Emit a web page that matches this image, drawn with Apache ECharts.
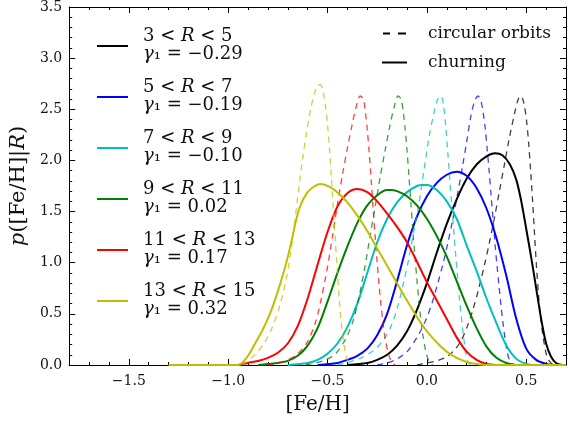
<!DOCTYPE html>
<html>
<head>
<meta charset="utf-8">
<script src="https://cdn.jsdelivr.net/npm/echarts@6/dist/echarts.min.js"></script>
<style>html,body{margin:0;padding:0;background:#fff;}#c{width:568px;height:423px;}</style>
</head>
<body>
<div id="c"></div>
<script>
// ---- data ----
const binLabels = ['3 < R < 5', '5 < R < 7', '7 < R < 9', '9 < R < 11', '11 < R < 13', '13 < R < 15'];
const gammaLabels = ['\u22120.29', '\u22120.19', '\u22120.10', '0.02', '0.17', '0.32'];
const xTickLabels = [-1.5, -1.0, -0.5, 0.0, 0.5];
const yTickLabels = [0.0, 0.5, 1.0, 1.5, 2.0, 2.5, 3.0, 3.5];

const blackDashed = [[-0.05,0],[0.0,0.02],[0.05,0.04],[0.1,0.08],[0.14,0.15],[0.17,0.23],[0.2,0.36],[0.23,0.53],[0.26,0.74],[0.29,0.98],[0.315,1.2],[0.34,1.44],[0.365,1.7],[0.39,1.96],[0.415,2.22],[0.44,2.45],[0.455,2.57],[0.469,2.63],[0.482,2.6],[0.492,2.52],[0.502,2.38],[0.512,2.17],[0.522,1.9],[0.532,1.6],[0.542,1.27],[0.552,0.95],[0.562,0.68],[0.572,0.47],[0.582,0.31],[0.592,0.19],[0.602,0.1],[0.615,0.04],[0.63,0.01],[0.645,0]];
const blackSolid = [[-0.40,0],[-0.3,0.02],[-0.25,0.05],[-0.2,0.1],[-0.15,0.19],[-0.1,0.33],[-0.05,0.54],[0.0,0.8],[0.05,1.1],[0.1,1.38],[0.15,1.62],[0.2,1.82],[0.25,1.96],[0.3,2.04],[0.343,2.07],[0.38,2.05],[0.418,1.96],[0.45,1.81],[0.475,1.6],[0.5,1.33],[0.525,1.05],[0.55,0.75],[0.575,0.45],[0.6,0.21],[0.625,0.08],[0.65,0.02],[0.68,0]];
const blueDashed = [[-0.25,0],[-0.2,0.02],[-0.15,0.06],[-0.1,0.13],[-0.05,0.27],[-0.01,0.42],[0.025,0.6],[0.055,0.8],[0.08,0.98],[0.105,1.19],[0.13,1.42],[0.155,1.68],[0.18,1.95],[0.2,2.18],[0.22,2.42],[0.24,2.58],[0.257,2.63],[0.272,2.58],[0.283,2.47],[0.293,2.32],[0.303,2.12],[0.313,1.9],[0.323,1.66],[0.333,1.42],[0.343,1.18],[0.353,0.97],[0.363,0.77],[0.373,0.58],[0.383,0.41],[0.393,0.26],[0.403,0.14],[0.415,0.05],[0.43,0.01],[0.45,0]];
const blueSolid = [[-0.55,0],[-0.45,0.02],[-0.4,0.05],[-0.35,0.09],[-0.3,0.16],[-0.25,0.29],[-0.2,0.5],[-0.15,0.82],[-0.1,1.17],[-0.05,1.45],[0.0,1.65],[0.05,1.78],[0.1,1.86],[0.15,1.89],[0.2,1.85],[0.25,1.73],[0.3,1.53],[0.35,1.24],[0.4,0.87],[0.45,0.45],[0.5,0.16],[0.55,0.05],[0.6,0.01],[0.63,0]];
const cyanDashed = [[-0.45,0],[-0.39,0.03],[-0.33,0.07],[-0.27,0.14],[-0.22,0.24],[-0.18,0.38],[-0.15,0.55],[-0.12,0.78],[-0.09,1.05],[-0.065,1.32],[-0.04,1.58],[-0.015,1.9],[0.01,2.22],[0.035,2.46],[0.055,2.6],[0.072,2.63],[0.085,2.52],[0.095,2.33],[0.105,2.08],[0.115,1.82],[0.125,1.56],[0.135,1.32],[0.145,1.07],[0.155,0.85],[0.165,0.63],[0.175,0.44],[0.185,0.27],[0.195,0.13],[0.205,0.04],[0.22,0]];
const cyanSolid = [[-0.70,0],[-0.6,0.02],[-0.55,0.05],[-0.5,0.11],[-0.45,0.21],[-0.4,0.37],[-0.35,0.6],[-0.3,0.9],[-0.25,1.2],[-0.2,1.43],[-0.15,1.59],[-0.1,1.69],[-0.05,1.75],[-0.025,1.76],[0.0,1.76],[0.05,1.71],[0.1,1.6],[0.15,1.43],[0.2,1.17],[0.25,0.92],[0.3,0.65],[0.35,0.41],[0.4,0.19],[0.45,0.06],[0.5,0.01],[0.53,0]];
const greenDashed = [[-0.61,0],[-0.56,0.02],[-0.51,0.05],[-0.46,0.11],[-0.41,0.25],[-0.37,0.44],[-0.34,0.68],[-0.31,0.98],[-0.285,1.27],[-0.26,1.55],[-0.235,1.84],[-0.21,2.1],[-0.185,2.35],[-0.165,2.52],[-0.145,2.63],[-0.13,2.6],[-0.12,2.49],[-0.11,2.32],[-0.1,2.1],[-0.09,1.84],[-0.08,1.57],[-0.07,1.3],[-0.06,1.06],[-0.05,0.83],[-0.04,0.62],[-0.03,0.44],[-0.02,0.29],[-0.005,0.13],[0.01,0.04],[0.03,0]];
const greenSolid = [[-0.85,0],[-0.8,0.01],[-0.75,0.02],[-0.7,0.04],[-0.65,0.09],[-0.6,0.19],[-0.55,0.36],[-0.5,0.62],[-0.45,0.9],[-0.4,1.16],[-0.35,1.39],[-0.3,1.56],[-0.25,1.66],[-0.2,1.71],[-0.185,1.71],[-0.15,1.7],[-0.1,1.65],[-0.05,1.56],[0.0,1.43],[0.05,1.26],[0.1,1.06],[0.15,0.82],[0.2,0.58],[0.25,0.36],[0.3,0.18],[0.35,0.07],[0.4,0.02],[0.45,0]];
const redDashed = [[-0.8,0],[-0.75,0.02],[-0.7,0.05],[-0.65,0.11],[-0.6,0.23],[-0.56,0.42],[-0.53,0.66],[-0.5,0.96],[-0.475,1.26],[-0.45,1.57],[-0.425,1.86],[-0.4,2.12],[-0.375,2.36],[-0.355,2.53],[-0.336,2.63],[-0.32,2.6],[-0.31,2.48],[-0.3,2.3],[-0.29,2.07],[-0.28,1.8],[-0.27,1.52],[-0.26,1.25],[-0.25,1.0],[-0.24,0.77],[-0.23,0.57],[-0.22,0.4],[-0.21,0.26],[-0.195,0.12],[-0.18,0.04],[-0.16,0]];
const redSolid = [[-0.95,0],[-0.9,0.02],[-0.85,0.04],[-0.8,0.07],[-0.75,0.12],[-0.7,0.21],[-0.65,0.38],[-0.6,0.65],[-0.55,0.98],[-0.5,1.3],[-0.45,1.55],[-0.4,1.68],[-0.35,1.72],[-0.3,1.69],[-0.25,1.6],[-0.2,1.48],[-0.15,1.35],[-0.1,1.2],[-0.05,1.01],[0.0,0.81],[0.05,0.63],[0.1,0.45],[0.15,0.27],[0.2,0.13],[0.25,0.05],[0.3,0.01],[0.35,0]];
const yellowDashed = [[-0.93,0],[-0.9,0.04],[-0.86,0.11],[-0.82,0.21],[-0.78,0.36],[-0.74,0.58],[-0.71,0.82],[-0.685,1.1],[-0.665,1.4],[-0.645,1.72],[-0.625,2.02],[-0.605,2.28],[-0.585,2.5],[-0.565,2.66],[-0.547,2.74],[-0.535,2.74],[-0.522,2.67],[-0.51,2.53],[-0.5,2.35],[-0.49,2.12],[-0.48,1.82],[-0.47,1.5],[-0.46,1.2],[-0.45,0.9],[-0.44,0.62],[-0.43,0.4],[-0.42,0.24],[-0.41,0.12],[-0.40,0.05],[-0.385,0]];
const yellowSolid = [[-1.3,0],[-0.95,0],[-0.93,0.02],[-0.9,0.09],[-0.87,0.19],[-0.83,0.33],[-0.79,0.5],[-0.75,0.72],[-0.71,0.98],[-0.68,1.22],[-0.66,1.4],[-0.638,1.55],[-0.604,1.68],[-0.571,1.74],[-0.537,1.77],[-0.487,1.74],[-0.445,1.68],[-0.4,1.59],[-0.35,1.46],[-0.3,1.31],[-0.25,1.14],[-0.2,0.97],[-0.15,0.8],[-0.1,0.63],[-0.05,0.47],[0.0,0.33],[0.05,0.22],[0.1,0.13],[0.15,0.07],[0.2,0.03],[0.25,0.01],[0.3,0],[0.7,0]];

const dashedSets = [blackDashed, blueDashed, cyanDashed, greenDashed, redDashed, yellowDashed];
const solidSets = [blackSolid, blueSolid, cyanSolid, greenSolid, redSolid, yellowSolid];

// ---- styles ----
const colors = ['#000000', '#0000ff', '#00bfbf', '#008000', '#ff0000', '#bfbf00'];
const FONT = 'DejaVu Serif';
const xMin = -1.8, xMax = 0.7;
const DASH_ICON = 'path://M0,0h7v2h-7zM15,0h8v2h-8z';

const names = binLabels.map((b, i) => b + '\n\u03b3\u2081 = ' + gammaLabels[i]);

const series = [];
for (let i = 0; i < 6; i++) {
  series.push({
    name: 'circ' + i, type: 'line', data: dashedSets[i], smooth: 0.3, showSymbol: false, symbol: 'none',
    lineStyle: { color: colors[i], width: 1.3, type: [6, 5], opacity: 0.75 }, itemStyle: { color: colors[i] },
    z: 2 + i * 2, silent: true
  });
  series.push({
    name: names[i], type: 'line', data: solidSets[i], smooth: 0.3, showSymbol: false, symbol: 'none',
    lineStyle: { color: colors[i], width: 2 }, itemStyle: { color: colors[i] },
    z: 3 + i * 2, silent: true
  });
}
series.push({ name: 'circular orbits', type: 'line', data: [], symbol: 'none',
  lineStyle: { color: '#000', width: 1.3, type: [6, 5] }, itemStyle: { color: '#000' } });
series.push({ name: 'churning', type: 'line', data: [], symbol: 'none',
  lineStyle: { color: '#000', width: 2 }, itemStyle: { color: '#000' } });

const fmtMinus = v => (v < 0 ? '\u2212' : '') + Math.abs(v).toFixed(1);
const tickCol = '#000';

function majorX(pos, showLabel) {
  return {
    type: 'value', min: xMin, max: xMax, position: pos, gridIndex: 0,
    axisLine: { show: true, onZero: false, lineStyle: { color: '#000', width: 1 } },
    axisTick: { show: true, inside: true, length: 6, customValues: xTickLabels, lineStyle: { color: tickCol } },
    axisLabel: { show: showLabel, customValues: xTickLabels, formatter: fmtMinus, fontFamily: FONT, fontSize: 14, color: '#111', margin: 9 },
    splitLine: { show: false }
  };
}
function minorX(pos) {
  return {
    type: 'value', min: xMin, max: xMax, interval: 0.1, position: pos, gridIndex: 0,
    axisLine: { show: false, onZero: false },
    axisTick: { show: true, inside: true, length: 3, lineStyle: { color: tickCol } },
    axisLabel: { show: false }, splitLine: { show: false }
  };
}
function yAx(pos, showLabel) {
  return {
    type: 'value', min: 0, max: 3.5, interval: 0.5, position: pos, gridIndex: 0,
    axisLine: { show: true, onZero: false, lineStyle: { color: '#000', width: 1 } },
    axisTick: { show: true, inside: true, length: 6, lineStyle: { color: tickCol } },
    minorTick: { show: true, splitNumber: 5, length: 3, lineStyle: { color: tickCol } },
    axisLabel: { show: showLabel, formatter: v => v.toFixed(1), fontFamily: FONT, fontSize: 14, color: '#111', margin: 7 },
    splitLine: { show: false }, minorSplitLine: { show: false }
  };
}

const xBottom = majorX('bottom', true);
xBottom.name = '[Fe/H]';
xBottom.nameLocation = 'middle';
xBottom.nameGap = 30;
xBottom.nameTextStyle = { fontFamily: FONT, fontSize: 20, color: '#111' };

const yLeft = yAx('left', true);
yLeft.name = '{i|p}([Fe/H]|{i|R})';
yLeft.nameLocation = 'middle';
yLeft.nameGap = 35;
yLeft.nameTextStyle = { fontFamily: FONT, fontSize: 21, color: '#111',
  rich: { i: { fontFamily: FONT, fontSize: 21, fontStyle: 'italic', color: '#111' } } };

const option = {
  animation: false,
  backgroundColor: '#ffffff',
  grid: { left: 69, right: 2, top: 7, bottom: 58, containLabel: false },
  xAxis: [xBottom, minorX('bottom'), majorX('top', false), minorX('top')],
  yAxis: [yLeft, yAx('right', false)],
  legend: [
    {
      data: names.map(n => ({ name: n, icon: 'rect' })), orient: 'vertical', left: 92, top: 22,
      itemWidth: 31, itemHeight: 2, itemGap: 13,
      selectedMode: false,
      formatter: n => n.replace('R', '{i|R}').replace('\u03b3', '{i|\u03b3}'),
      textStyle: { fontFamily: FONT, fontSize: 18, lineHeight: 18, color: '#111', padding: [0, 0, 2, 10],
        rich: { i: { fontFamily: FONT, fontSize: 18, lineHeight: 18, fontStyle: 'italic', color: '#111' } } }
    },
    {
      data: [{ name: 'circular orbits', icon: DASH_ICON }, { name: 'churning', icon: 'rect' }],
      orient: 'vertical', left: 377, top: 18, width: 190, itemWidth: 25, itemHeight: 2, itemGap: 8,
      selectedMode: false,
      textStyle: { fontFamily: FONT, fontSize: 17, lineHeight: 21, color: '#111', padding: [0, 0, 0, 16] }
    }
  ],
  series: series.map(s => Object.assign({ xAxisIndex: 0, yAxisIndex: 0 }, s))
};

const chart = echarts.init(document.getElementById('c'), null, { renderer: 'canvas' });
chart.setOption(option);
</script>
</body>
</html>
